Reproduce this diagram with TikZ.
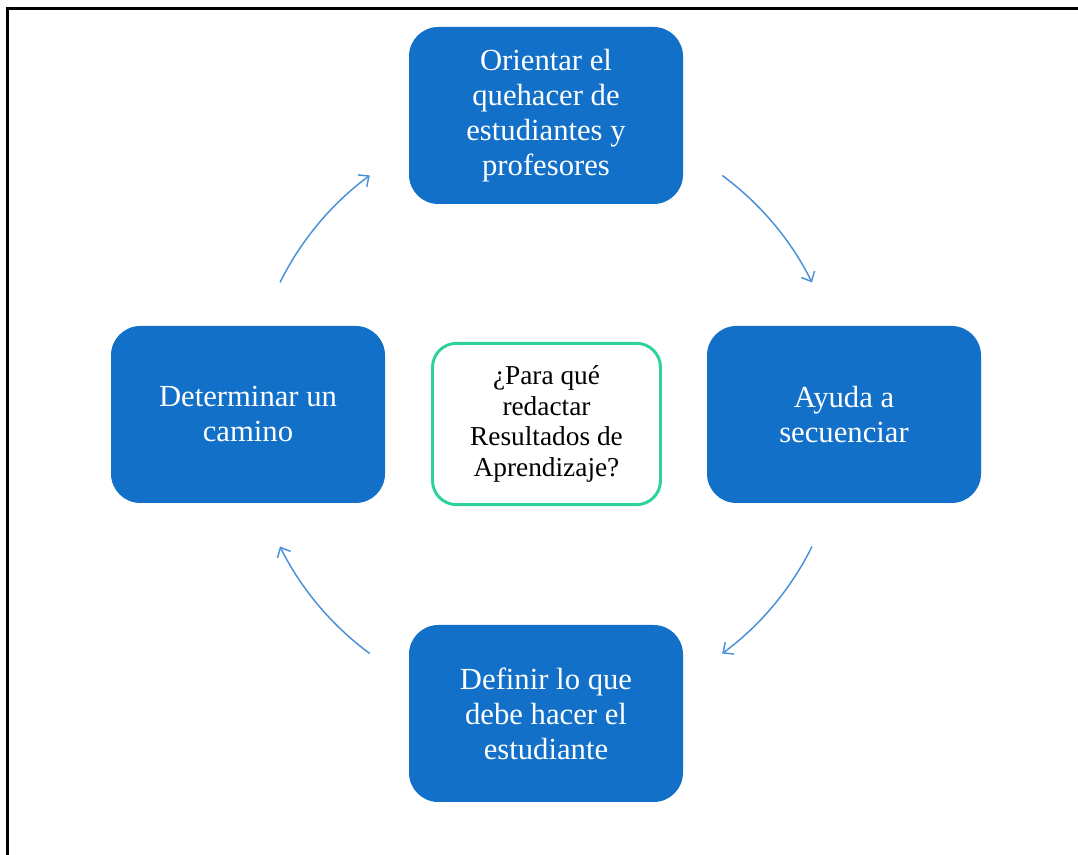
\documentclass[tikz,border=0pt]{standalone}
\usepackage{fontspec}
\setmainfont{Liberation Serif}
\usetikzlibrary{arrows.meta,positioning}
\definecolor{stepblue}{RGB}{18,112,200}
\definecolor{askgreen}{RGB}{44,210,158}
\definecolor{loopblue}{RGB}{74,144,217}

\tikzset{
  stepbox/.style={rectangle,rounded corners=22pt,fill=stepblue,draw=none,
    text=white,align=center,minimum width=205.5pt,minimum height=132.75pt,
    font=\fontsize{23}{26.25}\selectfont},
  askbox/.style={rectangle,rounded corners=18pt,fill=white,draw=askgreen,
    line width=2.2pt,align=center,minimum width=171pt,minimum height=121pt,
    font=\fontsize{20.5}{23}\selectfont},
  cycle arrow/.style={draw=loopblue,line width=1.1pt,
    -{Straight Barb[length=6pt,width=11pt]}}
}

\begin{document}
\begin{tikzpicture}[x=0.75pt,y=0.75pt]
  \useasboundingbox (0,0) rectangle (1078,855);
  % frame (left and top edge only)
  \draw[line width=2.25pt] (7,0) -- (7,846) -- (1078,846);

  \coordinate (hub) at (546,440.5);
  \node[askbox] (ask) at (546.5,431) {¿Para qué\\redactar\\Resultados de\\Aprendizaje?};
  \node[stepbox] (orient) at (546,739.5) {Orientar el\\quehacer de\\estudiantes y\\profesores};
  \node[stepbox] (seq) at (844,440.5) {Ayuda a\\secuenciar};
  \node[stepbox] (define) at (546,141.5) {Definir lo que\\debe hacer el\\estudiante};
  \node[stepbox] (path) at (248,440.5) {Determinar un\\camino};

  % arcs round the hub
  \foreach \s in {153.6,53.6,-26.4,-126.4} {
    \draw[cycle arrow] ([shift={(\s:297)}]hub) arc[start angle=\s,end angle=\s-27.2,radius=297];
  }
\end{tikzpicture}
\end{document}
